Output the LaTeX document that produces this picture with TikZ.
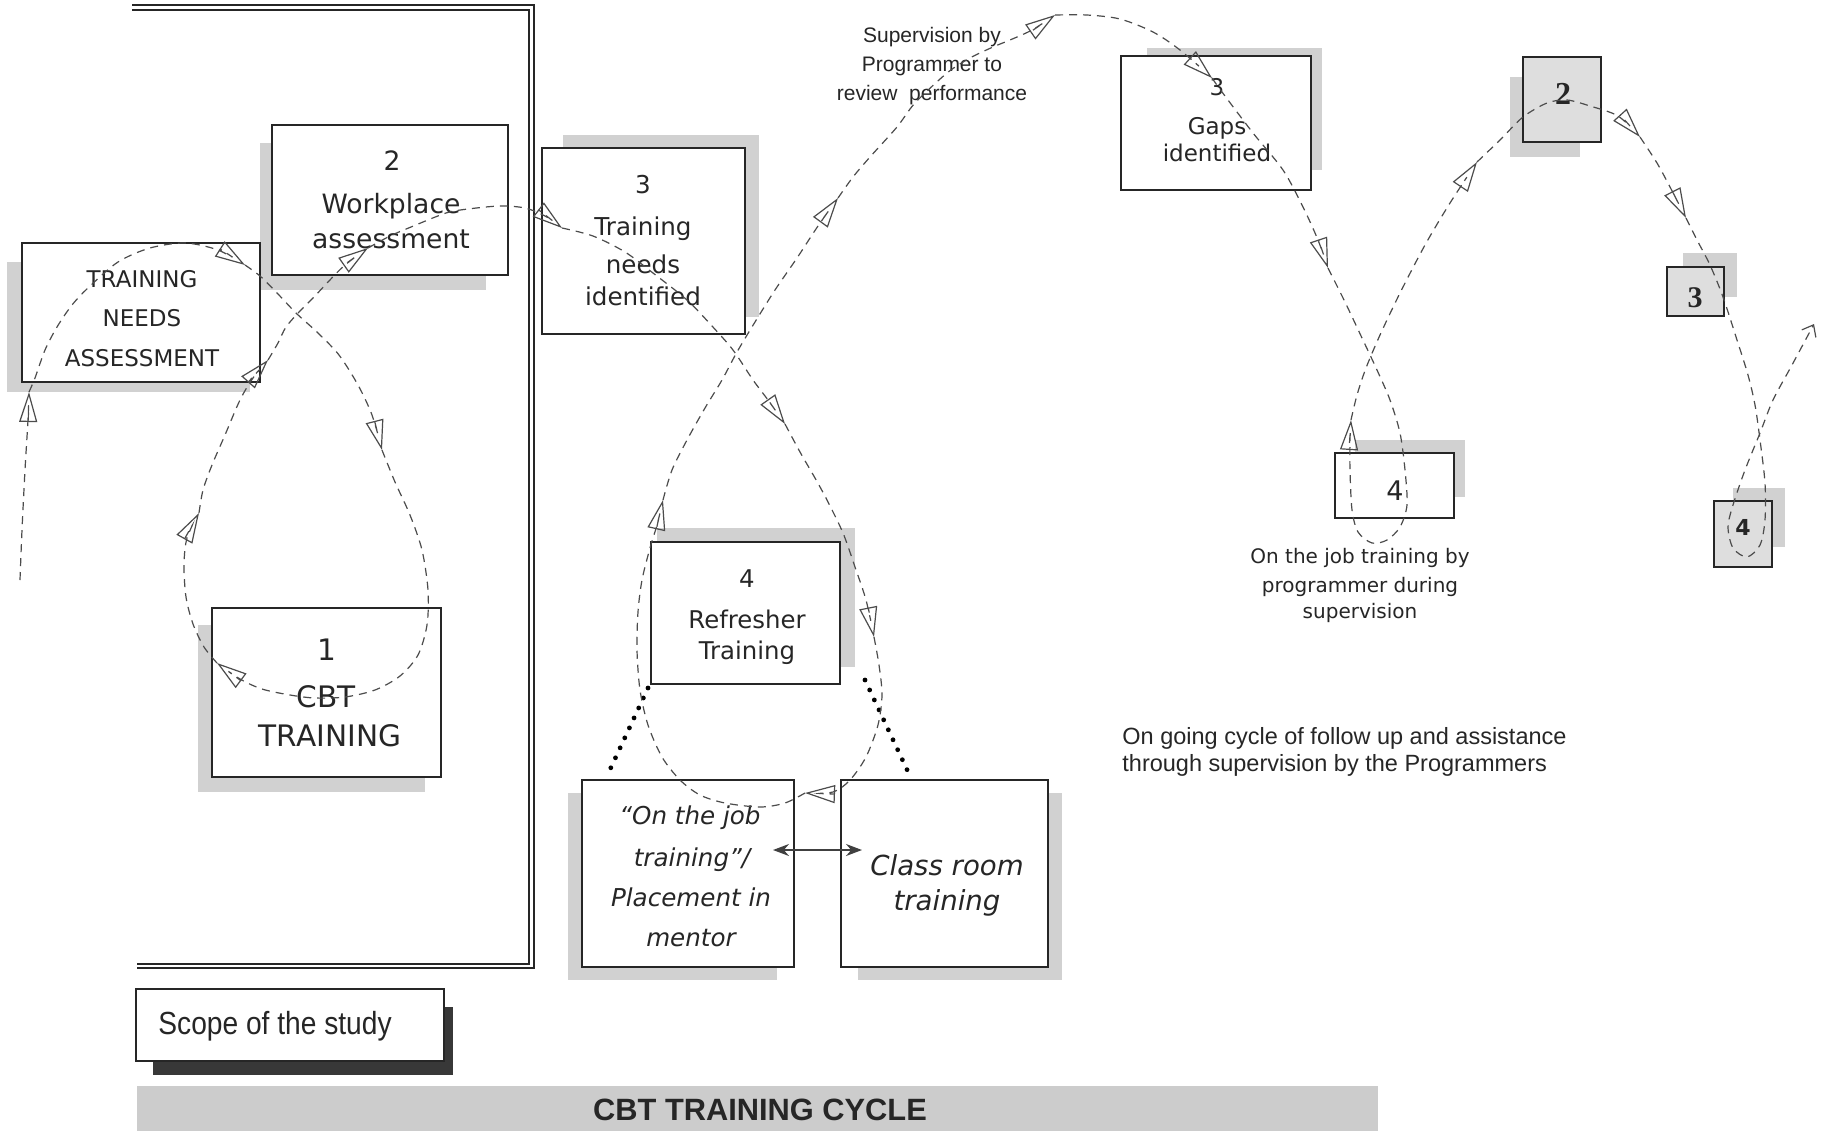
\documentclass[tikz,border=0pt]{standalone}
\usepackage{fontspec}
\usepackage{graphicx}
\usetikzlibrary{arrows.meta,fit}
\newfontfamily\bxf{DejaVu Sans}
\newfontfamily\arf{Liberation Sans}
\newfontfamily\tmf{Liberation Serif}
\newcommand\fsz[1]{\fontsize{#1}{#1}\selectfont}
\tikzset{
  box/.style={draw=black!85, line width=0.8pt, fill=white, inner sep=0pt},
  gbox/.style={draw=black!85, line width=0.9pt, fill=black!13, inner sep=0pt},
  shade/.style={fill=black!18, draw=none},
  dshade/.style={fill=black!78, draw=none},
  band/.style={fill=black!20, draw=none},
  frame/.style={draw=black!85, line width=1pt},
  flow/.style={draw=black!70, line width=0.6pt, dash pattern=on 4pt off 3pt,
    -{Triangle[open,length=15pt,width=9pt,line width=0.6pt]}},
  flowend/.style={draw=black!70, line width=0.6pt, dash pattern=on 4pt off 3pt,
    -{Straight Barb[length=5pt,width=8pt,line width=0.6pt]}},
  lbl/.style={inner sep=0pt, anchor=base, text=black!85},
  lblw/.style={inner sep=0pt, anchor=base west, text=black!85},
  dots/.style={draw=black, line width=2.4pt, line cap=round, dash pattern=on 0pt off 5.5pt},
  dbl/.style={draw=black!75, line width=0.7pt,
    {Stealth[length=8pt,width=6pt]}-{Stealth[length=8pt,width=6pt]}}
}
\begin{document}
\begin{tikzpicture}[x=0.5pt,y=-0.5pt]
\useasboundingbox (0,0) rectangle (1827,1131);
\fill[white] (0,0) rectangle (1827,1131);

% scope frame
\draw[frame] (132,5) -- (534,5) -- (534,968) -- (137,968);
\draw[frame] (132,10) -- (529,10) -- (529,964) -- (137,964);

% shadows
\path[shade] (7,262) rectangle (250,392);
\path[shade] (260,143) rectangle (486,290);
\path[shade] (563,135) rectangle (759,317);
\path[shade] (198,625) rectangle (425,792);
\path[shade] (657,528) rectangle (855,667);
\path[shade] (568,793) rectangle (777,980);
\path[shade] (858,793) rectangle (1062,980);
\path[shade] (1147,48) rectangle (1322,170);
\path[shade] (1355,440) rectangle (1465,497);
\path[shade] (1510,77) rectangle (1580,157);
\path[shade] (1683,253) rectangle (1737,297);
\path[shade] (1733,488) rectangle (1785,547);
\path[dshade] (153,1007) rectangle (453,1075);
\path[band] (137,1086) rectangle (1378,1131);

% boxes
\node[box, fit={(22,243)(260,382)}] (tna) {};
\node[box, fit={(272,125)(508,275)}] (wpa) {};
\node[box, fit={(542,148)(745,334)}] (tni) {};
\node[box, fit={(212,608)(441,777)}] (cbt) {};
\node[box, fit={(651,542)(840,684)}] (ref) {};
\node[box, fit={(582,780)(794,967)}] (ojt) {};
\node[box, fit={(841,780)(1048,967)}] (crt) {};
\node[box, fit={(1121,56)(1311,190)}] (gap) {};
\node[box, fit={(1335,453)(1454,518)}] (bfour) {};
\node[gbox, fit={(1523,57)(1601,142)}] (stwo) {};
\node[gbox, fit={(1667,267)(1724,316)}] (sthree) {};
\node[gbox, fit={(1714,501)(1772,567)}] (sfour) {};
\node[box, line width=1pt, fit={(136,989)(444,1061)}] (scope) {};

% texts
\begin{scope}[font=\bxf\fsz{11.5pt}]
\node[lbl] (tnaA) at (142,287) {TRAINING};
\node[lbl] (tnaB) at (142,326) {NEEDS};
\node[lbl] (tnaC) at (142,366) {ASSESSMENT};
\end{scope}
\begin{scope}[font=\bxf\fsz{13.3pt}]
\node[lbl] (wpaN) at (392,170) {2};
\node[lbl] (wpaA) at (391,213) {Workplace};
\node[lbl] (wpaB) at (391,248) {assessment};
\end{scope}
\begin{scope}[font=\bxf\fsz{12.3pt}]
\node[lbl] (tniN) at (643,193) {3};
\node[lbl] (tniA) at (643,235) {Training};
\node[lbl] (tniB) at (643,273) {needs};
\node[lbl] (tniC) at (643,305) {identified};
\end{scope}
\begin{scope}[font=\bxf\fsz{14.8pt}]
\node[lbl] (cbtN) at (327,660) {1};
\node[lbl] (cbtA) at (326,707) {CBT};
\node[lbl] (cbtB) at (330,746) {TRAINING};
\end{scope}
\begin{scope}[font=\bxf\fsz{12.2pt}]
\node[lbl] (refN) at (747,587) {4};
\node[lbl] (refA) at (747,628) {Refresher};
\node[lbl] (refB) at (747,659) {Training};
\end{scope}
\begin{scope}[font=\bxf\itshape\fsz{12.3pt}]
\node[lbl] (ojtA) at (690,824) {“On the job};
\node[lbl] (ojtB) at (692,866) {training”/};
\node[lbl] (ojtC) at (691,906) {Placement in};
\node[lbl] (ojtD) at (691,946) {mentor};
\end{scope}
\begin{scope}[font=\bxf\itshape\fsz{13.8pt}]
\node[lbl] (crtA) at (947,875) {Class room};
\node[lbl] (crtB) at (947,910) {training};
\end{scope}
\begin{scope}[font=\bxf\fsz{11.5pt}]
\node[lbl] (gapN) at (1217,95) {3};
\node[lbl] (gapA) at (1217,134) {Gaps};
\node[lbl] (gapB) at (1217,161) {identified};
\end{scope}
\node[lbl, font=\bxf\fsz{13.5pt}] (bfourN) at (1395,500) {4};
\begin{scope}[font=\bxf\fsz{10pt}]
\node[lbl] (ojbA) at (1360,563) {On the job training by};
\node[lbl] (ojbB) at (1360,592) {programmer during};
\node[lbl] (ojbC) at (1360,618) {supervision};
\end{scope}
\node[lbl, font=\tmf\bfseries\fsz{16pt}] (stwoN) at (1563,104) {2};
\node[lbl, font=\tmf\bfseries\fsz{15pt}] (sthreeN) at (1695,307) {3};
\node[lbl, font=\bxf\bfseries\fsz{11pt}] (sfourN) at (1743,535) {4};
\begin{scope}[font=\arf\fsz{10.5pt}]
\node[lbl] (supA) at (932,42) {Supervision by};
\node[lbl] (supB) at (932,71) {Programmer to};
\node[lbl] (supC) at (932,100) {review\ \ performance};
\end{scope}
\begin{scope}[font=\arf\fsz{11.75pt}]
\node[lblw] (ongA) at (1122,744) {On going cycle of follow up and assistance};
\node[lblw] (ongB) at (1122,771) {through supervision by the Programmers};
\end{scope}
\node[lblw, font=\arf\fsz{16pt}] (scopeT) at (158,1034) {\scalebox{0.88}[1]{Scope of the study}};
\node[lbl, font=\arf\bfseries\fsz{15.4pt}] (bandT) at (760,1120) {CBT TRAINING CYCLE};

% connectors between the two training boxes
\coordinate (dblL) at (773,850);
\coordinate (dblR) at (862,850);
\draw[dbl] (dblL) -- (dblR);
\coordinate (dotLa) at (648,688);
\coordinate (dotLb) at (607,776);
\coordinate (dotRa) at (865,680);
\coordinate (dotRb) at (910,776);
\draw[dots] (dotLa) -- (dotLb);
\draw[dots] (dotRa) -- (dotRb);

% the cycle curve
\coordinate (c0) at (20,580);
\coordinate (a1) at (29,392);
\coordinate (a2) at (245,265);
\coordinate (a3) at (382,450);
\coordinate (a4) at (217,663);
\coordinate (a5) at (199,513);
\coordinate (a6) at (268,360);
\coordinate (a7) at (368,248);
\coordinate (a8) at (562,228);
\coordinate (a9) at (785,424);
\coordinate (a10) at (874,637);
\coordinate (a11) at (805,793);
\coordinate (a12) at (663,500);
\coordinate (a13) at (838,198);
\coordinate (a14) at (1055,15);
\coordinate (a15) at (1212,78);
\coordinate (a16) at (1328,268);
\coordinate (a17) at (1351,420);
\coordinate (a18) at (1477,162);
\coordinate (a19) at (1640,137);
\coordinate (a20) at (1686,218);
\coordinate (cz) at (1814,324);

\draw[flow] plot[smooth] coordinates {(c0) (22,530) (25,470) (28,420) (a1)};
\draw[flow] plot[smooth] coordinates {(a1) (35,378) (45,350) (57,327) (72,305) (89,287) (118,262) (150,248) (185,243) (218,250) (a2)};
\draw[flow] plot[smooth] coordinates {(a2) (260,276) (278,294) (296,313) (318,333) (339,355) (358,385) (372,415) (a3)};
\draw[flow] plot[smooth] coordinates {(a3) (395,482) (410,515) (422,550) (428,590) (427,625) (418,655) (400,676) (375,690) (345,697) (315,698) (290,695) (262,689) (240,679) (a4)};
\draw[flow] plot[smooth] coordinates {(a4) (204,647) (193,624) (186,597) (184,565) (187,538) (a5)};
\draw[flow] plot[smooth] coordinates {(a5) (203,490) (212,465) (225,435) (240,400) (253,378) (a6)};
\draw[flow] plot[smooth] coordinates {(a6) (278,343) (286,327) (300,311) (314,297) (328,282) (345,265) (a7)};
\draw[flow] plot[smooth] coordinates {(a7) (390,236) (411,227) (446,213) (468,209) (500,206) (525,208) (545,216) (a8)};
\draw[flow] plot[smooth] coordinates {(a8) (593,236) (625,252) (653,273) (687,300) (712,326) (733,350) (753,380) (768,400) (a9)};
\draw[flow] plot[smooth] coordinates {(a9) (800,452) (815,478) (827,500) (843,533) (855,567) (866,600) (a10)};
\draw[flow] plot[smooth] coordinates {(a10) (879,665) (882,695) (878,725) (866,757) (850,780) (833,792) (a11)};
\draw[flow] plot[smooth] coordinates {(a11) (785,803) (760,807) (725,803) (700,795) (680,780) (662,757) (648,725) (640,690) (637,650) (638,612) (642,580) (650,548) (657,525) (a12)};
\draw[flow] plot[smooth] coordinates {(a12) (672,470) (687,440) (705,408) (722,380) (737,352) (755,322) (775,290) (797,258) (818,226) (a13)};
\draw[flow] plot[smooth] coordinates {(a13) (853,177) (870,157) (897,127) (915,103) (947,73) (970,58) (993,47) (1010,40) (1032,30) (a14)};
\draw[flow] plot[smooth] coordinates {(a14) (1087,15) (1120,19) (1153,32) (1180,50) (a15)};
\draw[flow] plot[smooth] coordinates {(a15) (1222,92) (1253,133) (1283,170) (1303,207) (1318,240) (a16)};
\draw[flow] plot[smooth] coordinates {(a16) (1345,302) (1362,338) (1377,370) (1390,400) (1400,433) (1405,470) (1407,505) (1400,527) (1387,540) (1372,543) (1358,532) (1352,510) (1350,470) (1350,440) (a17)};
\draw[flow] plot[smooth] coordinates {(a17) (1357,395) (1366,368) (1380,335) (1400,293) (1425,245) (1450,203) (a18)};
\draw[flow] plot[smooth] coordinates {(a18) (1500,140) (1523,117) (1547,103) (1567,100) (1590,106) (1618,116) (a19)};
\draw[flow] plot[smooth] coordinates {(a19) (1657,163) (1670,187) (a20)};
\draw[flowend] plot[smooth] coordinates {(a20) (1697,240) (1710,265) (1723,297) (1737,340) (1748,375) (1755,405) (1760,440) (1765,483) (1765,520) (1760,545) (1747,557) (1733,548) (1728,527) (1733,505) (1745,470) (1760,433) (1773,400) (1792,365) (cz)};
\end{tikzpicture}
\end{document}
